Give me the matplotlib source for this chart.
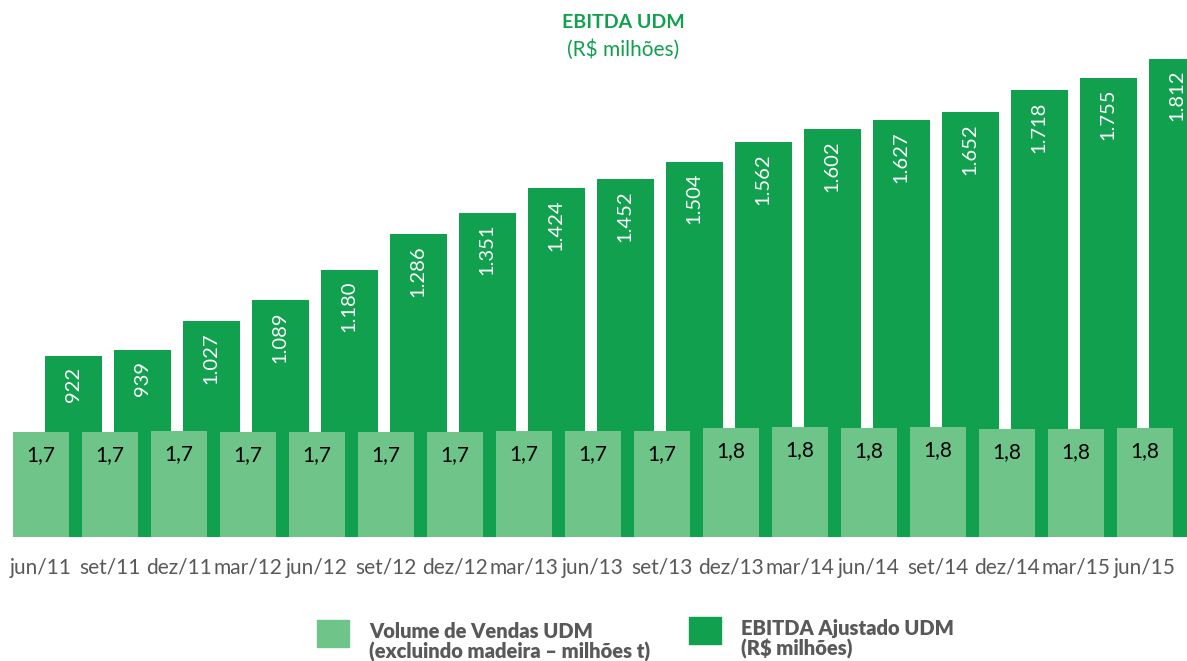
import numpy as np
import matplotlib.pyplot as plt
from matplotlib.patches import Rectangle

plt.rcParams['font.family'] = ['Lato', 'DejaVu Sans']

# dados
periodos = ['jun/11', 'set/11', 'dez/11', 'mar/12', 'jun/12', 'set/12', 'dez/12', 'mar/13', 'jun/13',
            'set/13', 'dez/13', 'mar/14', 'jun/14', 'set/14', 'dez/14', 'mar/15', 'jun/15']
volume = [1.70, 1.70, 1.72, 1.70, 1.70, 1.70, 1.70, 1.72, 1.71,
          1.71, 1.76, 1.78, 1.76, 1.78, 1.75, 1.75, 1.76]
ebitda = [922, 939, 1027, 1089, 1180, 1286, 1351, 1424, 1452,
          1504, 1562, 1602, 1627, 1652, 1718, 1755, 1812]

VERDE = '#11A04D'
VERDE_CLARO = '#6FC48A'
CINZA = '#595959'

W, H = 1187, 661
fig = plt.figure(figsize=(W / 100, H / 100), dpi=100)

def fx(px):
    return px / W

def fy(py):
    return 1 - py / H

# eixo principal: EBITDA (atras), eixo gemeo: volume (na frente)
ax = fig.add_axes([0, fy(537), 1, fy(40) - fy(537)])
ax2 = ax.twinx()

x = np.arange(len(periodos))
largura = 0.826
desloc = 0.464

ax.bar(x + desloc, ebitda, width=largura, color=VERDE, zorder=2)
for xi, v in zip(x, ebitda):
    txt = f"{v:,}".replace(',', '.')
    ax.annotate(txt, (xi + desloc, v), xytext=(0, -8), textcoords='offset points',
                rotation=90, ha='center', va='top', color='white', fontsize=14.5)

ax2.bar(x, volume, width=largura, color=VERDE_CLARO, zorder=2)
for xi, v in zip(x, volume):
    txt = f"{v:.1f}".replace('.', ',')
    ax2.annotate(txt, (xi, v), xytext=(0, -16.5), textcoords='offset points',
                 ha='center', va='center', color='black', fontsize=15)

ax.set_xlim(-41 / 69, (W - 41) / 69)
ax.set_ylim(380, 1868)
ax2.set_ylim(0, 497 / 61.8)

for a in (ax, ax2):
    for s in a.spines.values():
        s.set_visible(False)
    a.set_yticks([])

ax.set_xticks(x)
ax.set_xticklabels(periodos, fontsize=15, color=CINZA)
ax.tick_params(axis='x', length=0, pad=15)

# titulo
fig.text(fx(623), fy(22), 'EBITDA UDM', ha='center', va='center', color=VERDE,
         fontsize=14, fontweight='bold')
fig.text(fx(623), fy(50), '(R$ milhões)', ha='center', va='center', color=VERDE, fontsize=15)

# legenda manual
fig.patches.append(Rectangle((fx(317), fy(647)), fx(32), fy(620) - fy(647),
                             transform=fig.transFigure, color=VERDE_CLARO))
fig.patches.append(Rectangle((fx(689), fy(644)), fx(32), fy(617) - fy(644),
                             transform=fig.transFigure, color=VERDE))
fig.text(fx(369), fy(642), 'Volume de Vendas UDM\n(excluindo madeira – milhões t)',
         ha='left', va='center', color=CINZA, fontsize=14.5, fontweight='heavy', linespacing=1.08)
fig.text(fx(741), fy(639), 'EBITDA Ajustado UDM\n(R$ milhões)',
         ha='left', va='center', color=CINZA, fontsize=14.5, fontweight='heavy', linespacing=1.08)

fig.savefig('out.png', dpi=100)
